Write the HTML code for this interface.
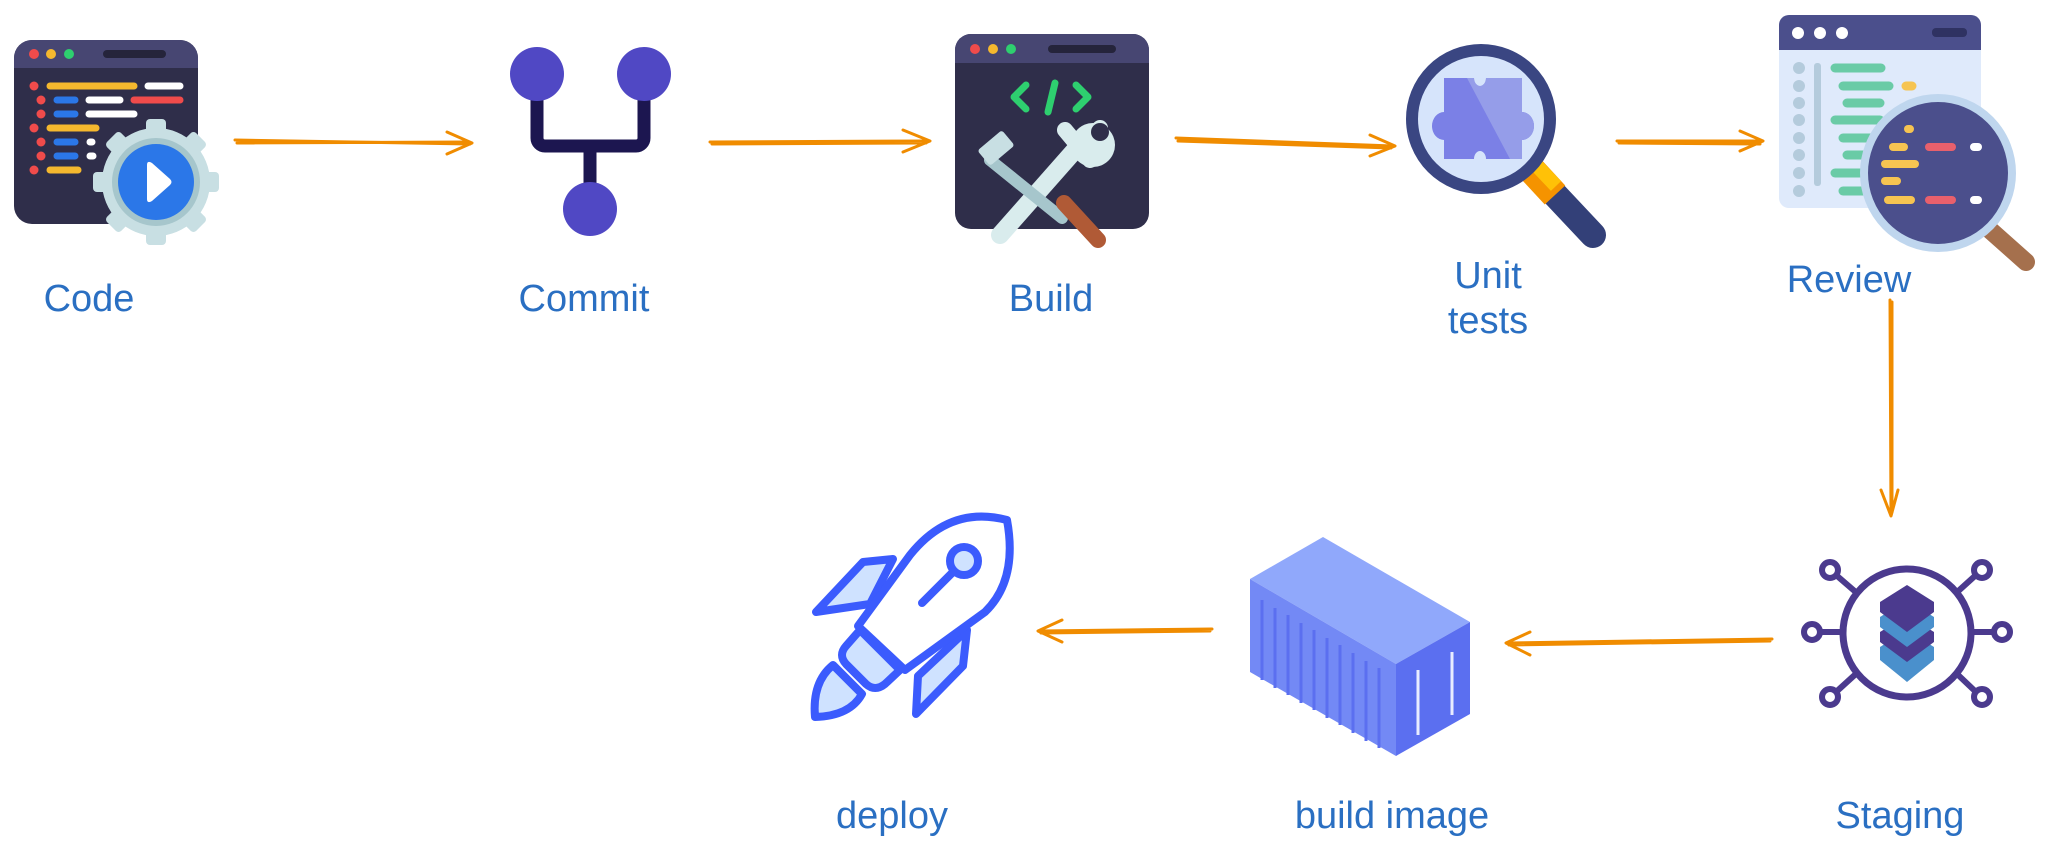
<!DOCTYPE html>
<html><head><meta charset="utf-8"><style>
html,body{margin:0;padding:0;background:#fff;width:2048px;height:848px;overflow:hidden}
svg{display:block}
text{font-family:"Liberation Sans",sans-serif;font-size:38px;fill:#2a6fc2;text-anchor:middle}
</style></head><body>
<svg width="2048" height="848" viewBox="0 0 2048 848" xmlns="http://www.w3.org/2000/svg">
<!-- arrows -->
<g fill="none" stroke="#f08c00" stroke-width="3" stroke-linecap="round" stroke-linejoin="round">
  <path d="M235,140 L470,144 M237,143 L468,142"/><path d="M447,132 L472,143 L447,154"/>
  <path d="M710,142 L928,141 M712,144 L926,143"/><path d="M903,130 L930,141 L903,152"/>
  <path d="M1176,138 L1393,146 M1178,141 L1391,148"/><path d="M1370,135 L1395,146 L1370,156"/>
  <path d="M1617,141 L1762,141 M1619,143 L1760,144"/><path d="M1740,131 L1763,141 L1740,151"/>
  <path d="M1890,300 L1891,515 M1892,302 L1892,512"/><path d="M1881,490 L1891,516 L1898,490"/>
  <path d="M1772,639 L1507,643 M1770,641 L1509,645"/><path d="M1530,632 L1506,643 L1530,655"/>
  <path d="M1212,629 L1039,631 M1210,631 L1041,633"/><path d="M1062,620 L1038,631 L1062,642"/>
</g>
<!-- Code icon -->
<rect x="14" y="40" width="184" height="184" rx="18" fill="#2f2e4a"/>
<path d="M14,68 V58 a18,18 0 0 1 18,-18 H180 a18,18 0 0 1 18,18 V68 Z" fill="#474672"/>
<circle cx="34" cy="54" r="5" fill="#f04b4b"/><circle cx="51" cy="54" r="5" fill="#f5b82e"/><circle cx="69" cy="54" r="5" fill="#2ecf6f"/>
<rect x="103" y="50" width="63" height="8" rx="4" fill="#25243b"/>
<g stroke-linecap="round" stroke-width="7">
<line x1="34" y1="86" x2="34" y2="86" stroke="#f04b4b" stroke-width="9"/><line x1="50" y1="86" x2="134" y2="86" stroke="#f5b82e"/><line x1="148" y1="86" x2="180" y2="86" stroke="#fff"/>
<line x1="41" y1="100" x2="41" y2="100" stroke="#f04b4b" stroke-width="9"/><line x1="57" y1="100" x2="75" y2="100" stroke="#2b77e8"/><line x1="89" y1="100" x2="120" y2="100" stroke="#fff"/><line x1="134" y1="100" x2="180" y2="100" stroke="#f04b4b"/>
<line x1="41" y1="114" x2="41" y2="114" stroke="#f04b4b" stroke-width="9"/><line x1="57" y1="114" x2="75" y2="114" stroke="#2b77e8"/><line x1="89" y1="114" x2="134" y2="114" stroke="#fff"/>
<line x1="34" y1="128" x2="34" y2="128" stroke="#f04b4b" stroke-width="9"/><line x1="50" y1="128" x2="96" y2="128" stroke="#f5b82e"/>
<line x1="41" y1="142" x2="41" y2="142" stroke="#f04b4b" stroke-width="9"/><line x1="57" y1="142" x2="75" y2="142" stroke="#2b77e8"/><line x1="90" y1="142" x2="92" y2="142" stroke="#fff"/>
<line x1="41" y1="156" x2="41" y2="156" stroke="#f04b4b" stroke-width="9"/><line x1="57" y1="156" x2="75" y2="156" stroke="#2b77e8"/><line x1="90" y1="156" x2="93" y2="156" stroke="#fff"/>
<line x1="34" y1="170" x2="34" y2="170" stroke="#f04b4b" stroke-width="9"/><line x1="50" y1="170" x2="78" y2="170" stroke="#f5b82e"/>
</g>
<g transform="translate(156,182)">
<circle r="54" fill="#c8dfe3"/>
<g fill="#c8dfe3"><rect x="-10" y="-63" width="20" height="126" rx="4"/><rect x="-10" y="-63" width="20" height="126" rx="4" transform="rotate(45)"/><rect x="-10" y="-63" width="20" height="126" rx="4" transform="rotate(90)"/><rect x="-10" y="-63" width="20" height="126" rx="4" transform="rotate(135)"/></g>
<circle r="44" fill="#a6c6cc"/><circle r="38" fill="#2b77e8"/>
<path d="M-9,-17 L-9,17 Q-9,22 -4,19 L14,3 Q17,0 14,-3 L-4,-19 Q-9,-22 -9,-17Z" fill="#fff"/>
</g>
<!-- Commit -->
<path d="M537,74 V138 a8,8 0 0 0 8,8 H636 a8,8 0 0 0 8,-8 V74 M590,146 V209" fill="none" stroke="#1c1650" stroke-width="13"/>
<circle cx="537" cy="74" r="27" fill="#5048c4"/><circle cx="644" cy="74" r="27" fill="#5048c4"/><circle cx="590" cy="209" r="27" fill="#5048c4"/>
<!-- Build -->
<rect x="955" y="34" width="194" height="195" rx="16" fill="#2f2e4a"/>
<path d="M955,63 V50 a16,16 0 0 1 16,-16 H1133 a16,16 0 0 1 16,16 V63 Z" fill="#474672"/>
<circle cx="975" cy="49" r="5" fill="#f04b4b"/><circle cx="993" cy="49" r="5" fill="#f5b82e"/><circle cx="1011" cy="49" r="5" fill="#2ecf6f"/>
<rect x="1048" y="45" width="68" height="8" rx="4" fill="#25243b"/>
<g fill="none" stroke="#2ecf6f" stroke-width="7" stroke-linecap="round" stroke-linejoin="round"><path d="M1026,85 L1014,97 L1026,109"/><path d="M1055,83 L1048,112"/><path d="M1076,85 L1088,97 L1076,109"/></g>
<g stroke-linecap="round">
<line x1="1000" y1="235" x2="1075" y2="150" stroke="#d9eced" stroke-width="18"/>
<path d="M1075,150 L1100,128 M1065,130 L1090,160" stroke="#d9eced" stroke-width="16"/>
<circle cx="1093" cy="145" r="22" fill="#d9eced"/><circle cx="1100" cy="132" r="9" fill="#2f2e4a"/>
<line x1="990" y1="160" x2="1062" y2="218" stroke="#a6c6cc" stroke-width="12"/>
<rect x="980" y="138" width="32" height="20" rx="3" fill="#c8dfe3" transform="rotate(-40 996 148)"/>
<line x1="1064" y1="203" x2="1098" y2="240" stroke="#b05a36" stroke-width="16"/>
</g>
<!-- Unit tests -->
<line x1="1530" y1="168" x2="1593" y2="235" stroke="#334078" stroke-width="26" stroke-linecap="round"/>
<line x1="1530" y1="168" x2="1555" y2="195" stroke="#f59300" stroke-width="28"/>
<line x1="1537" y1="166" x2="1556" y2="186" stroke="#ffc107" stroke-width="14"/>
<circle cx="1481" cy="119" r="69" fill="#d6e4fb" stroke="#3a4682" stroke-width="12"/>
<path d="M1448,78 H1474 a6,8 0 0 0 12,0 H1522 V112 a12,14 0 0 1 0,28 V159 H1486 a6,8 0 0 0 -12,0 H1444 V140 a12,14 0 0 1 0,-28 V78Z" fill="#7b80e6"/>
<path d="M1467,78 H1474 a6,8 0 0 0 12,0 H1522 V112 a12,14 0 0 1 0,28 V159 H1510 Z" fill="#959de9"/>
<!-- Review -->
<rect x="1779" y="15" width="202" height="193" rx="10" fill="#dfeafb"/>
<path d="M1779,50 V25 a10,10 0 0 1 10,-10 H1971 a10,10 0 0 1 10,10 V50Z" fill="#4b4f8c"/>
<circle cx="1798" cy="33" r="6" fill="#fff"/><circle cx="1820" cy="33" r="6" fill="#fff"/><circle cx="1842" cy="33" r="6" fill="#fff"/>
<rect x="1932" y="28" width="35" height="9" rx="4" fill="#2f3262"/>
<g fill="#b4cbdc"><circle cx="1799" cy="68" r="6"/><circle cx="1799" cy="86" r="6"/><circle cx="1799" cy="103" r="6"/><circle cx="1799" cy="120" r="6"/><circle cx="1799" cy="138" r="6"/><circle cx="1799" cy="155" r="6"/><circle cx="1799" cy="173" r="6"/><circle cx="1799" cy="191" r="6"/><rect x="1814" y="63" width="7" height="123" rx="3"/></g>
<g stroke="#6acba6" stroke-width="9" stroke-linecap="round"><line x1="1835" y1="68" x2="1881" y2="68"/><line x1="1843" y1="86" x2="1889" y2="86"/><line x1="1847" y1="103" x2="1880" y2="103"/><line x1="1835" y1="120" x2="1880" y2="120"/><line x1="1843" y1="138" x2="1880" y2="138"/><line x1="1847" y1="155" x2="1880" y2="155"/><line x1="1835" y1="173" x2="1880" y2="173"/><line x1="1843" y1="191" x2="1880" y2="191"/></g>
<line x1="1906" y1="86" x2="1912" y2="86" stroke="#f6c451" stroke-width="9" stroke-linecap="round"/>
<line x1="1990" y1="230" x2="2026" y2="262" stroke="#a5704d" stroke-width="18" stroke-linecap="round"/>
<ellipse cx="1938" cy="173" rx="74" ry="75" fill="#4b4f8c" stroke="#bfd6ee" stroke-width="8"/>
<g stroke-width="8" stroke-linecap="round"><line x1="1908" y1="129" x2="1910" y2="129" stroke="#f6c451"/><line x1="1893" y1="147" x2="1904" y2="147" stroke="#f6c451"/><line x1="1929" y1="147" x2="1952" y2="147" stroke="#e8606c"/><line x1="1974" y1="147" x2="1978" y2="147" stroke="#fff"/><line x1="1885" y1="164" x2="1915" y2="164" stroke="#f6c451"/><line x1="1885" y1="181" x2="1897" y2="181" stroke="#f6c451"/><line x1="1888" y1="200" x2="1911" y2="200" stroke="#f6c451"/><line x1="1929" y1="200" x2="1952" y2="200" stroke="#e8606c"/><line x1="1974" y1="200" x2="1978" y2="200" stroke="#fff"/></g>
<!-- Staging -->
<g stroke="#4b3a8e" stroke-width="6" fill="none">
<line x1="1820" y1="632" x2="1844" y2="632"/><line x1="1992" y1="632" x2="1970" y2="632"/>
<line x1="1836" y1="575" x2="1858" y2="594"/><line x1="1976" y1="575" x2="1955" y2="594"/>
<line x1="1836" y1="692" x2="1858" y2="672"/><line x1="1976" y1="692" x2="1955" y2="672"/>
<circle cx="1812" cy="632" r="8"/><circle cx="2002" cy="632" r="8"/><circle cx="1830" cy="570" r="8"/><circle cx="1982" cy="570" r="8"/><circle cx="1830" cy="697" r="8"/><circle cx="1982" cy="697" r="8"/>
<circle cx="1907" cy="633" r="64" stroke-width="7"/>
</g>
<path d="M1907,630 L1934,647 V660 L1907,682 L1880,660 V647Z" fill="#4a90cc"/>
<path d="M1907,615 L1934,632 V642 L1907,662 L1880,642 V632Z" fill="#4b3a8e"/>
<path d="M1907,600 L1934,617 V627 L1907,647 L1880,627 V617Z" fill="#4a90cc"/>
<path d="M1907,585 L1934,602 V612 L1907,632 L1880,612 V602Z" fill="#4b3a8e"/>
<!-- Container -->
<path d="M1250,579 L1323,537 L1470,622 L1396,664Z" fill="#90a8fb"/>
<path d="M1250,579 L1396,664 L1396,756 L1250,672Z" fill="#7389f5"/>
<path d="M1396,664 L1470,622 L1470,714 L1396,756Z" fill="#5b6ff0"/>
<g stroke="#5b6ff0" stroke-width="3"><line x1="1262" y1="600" x2="1262" y2="680"/><line x1="1275" y1="608" x2="1275" y2="688"/><line x1="1288" y1="615" x2="1288" y2="695"/><line x1="1301" y1="623" x2="1301" y2="703"/><line x1="1314" y1="630" x2="1314" y2="710"/><line x1="1327" y1="638" x2="1327" y2="718"/><line x1="1340" y1="645" x2="1340" y2="725"/><line x1="1353" y1="653" x2="1353" y2="733"/><line x1="1366" y1="661" x2="1366" y2="741"/><line x1="1379" y1="668" x2="1379" y2="748"/></g>
<g stroke="#e8ecff" stroke-width="3"><line x1="1418" y1="670" x2="1418" y2="735"/><line x1="1452" y1="652" x2="1452" y2="715"/></g>
<!-- Rocket -->
<g stroke="#3b5bfd" stroke-width="8" stroke-linejoin="round" stroke-linecap="round" fill="#cfe2ff">
<path d="M863,562 L893,559 L870,604 L816,612Z"/>
<path d="M967,630 L963,666 L916,714 L918,676Z"/>
<path d="M833,665 L862,694 Q850,716 815,717 Q812,682 833,665Z"/>
<path d="M860,630 L900,670 L885,684 Q875,692 866,684 L846,664 Q838,655 846,646Z"/>
<path d="M1007,520 Q1018,580 985,612 L905,670 L858,626 L910,555 Q950,505 1007,520Z" fill="#fff"/>
<circle cx="964" cy="561" r="14"/>
<line x1="953" y1="572" x2="922" y2="603"/>
</g>
<!-- labels -->
<text x="89" y="311">Code</text>
<text x="584" y="311">Commit</text>
<text x="1051" y="311">Build</text>
<text x="1488" y="288">Unit</text>
<text x="1488" y="333">tests</text>
<text x="1849" y="292">Review</text>
<text x="1900" y="828">Staging</text>
<text x="1392" y="828">build image</text>
<text x="892" y="828">deploy</text>
</svg>
</body></html>
